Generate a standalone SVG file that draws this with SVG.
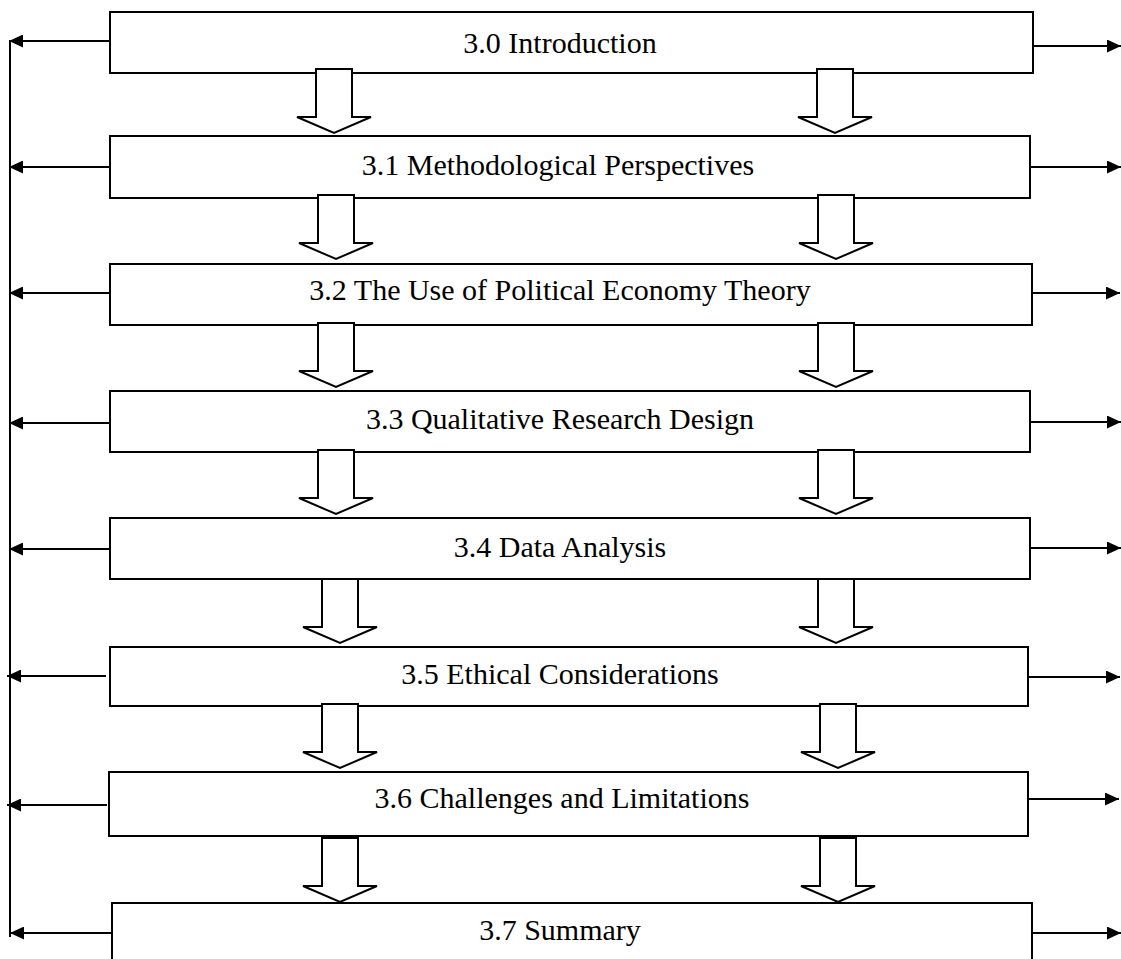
<svg xmlns="http://www.w3.org/2000/svg" width="1121" height="959" viewBox="0 0 1121 959">
  <style>
    .box { fill: #ffffff; stroke: #000000; stroke-width: 2; }
    .lbl { font-family: "Liberation Serif", "Times New Roman", serif; font-size: 30px; fill: #000000; text-anchor: middle; }
    .wire { stroke: #000000; stroke-width: 2; fill: none; }
    .arw { marker-end: url(#head); }
    .blk { fill: #ffffff; stroke: #000000; stroke-width: 2; stroke-linejoin: miter; }
  </style>
  <defs>
    <marker id="head" markerUnits="userSpaceOnUse" markerWidth="15" markerHeight="13" refX="14" refY="6.5" orient="auto">
      <path d="M0,0 L14,6.5 L0,13 Z" fill="#000000"/>
    </marker>
    <!-- hollow block arrow, origin at top-left of the shaft -->
    <path id="down" d="M0,0 H36 V48 H55 L18,64 L-19,48 H0 Z"/>
  </defs>

  <rect width="1121" height="959" fill="#ffffff"/>

  <!-- section boxes -->
  <g id="n30"><rect class="box" x="110" y="12" width="923" height="61"/><text class="lbl" x="560" y="53">3.0 Introduction</text></g>
  <g id="n31"><rect class="box" x="110" y="136" width="920" height="62"/><text class="lbl" x="558" y="175">3.1 Methodological Perspectives</text></g>
  <g id="n32"><rect class="box" x="110" y="264" width="922" height="61"/><text class="lbl" x="560" y="300">3.2 The Use of Political Economy Theory</text></g>
  <g id="n33"><rect class="box" x="110" y="391" width="920" height="61"/><text class="lbl" x="560" y="429">3.3 Qualitative Research Design</text></g>
  <g id="n34"><rect class="box" x="110" y="518" width="920" height="61"/><text class="lbl" x="560" y="557">3.4 Data Analysis</text></g>
  <g id="n35"><rect class="box" x="110" y="647" width="918" height="59"/><text class="lbl" x="560" y="684">3.5 Ethical Considerations</text></g>
  <g id="n36"><rect class="box" x="109" y="772" width="919" height="64"/><text class="lbl" x="562" y="808">3.6 Challenges and Limitations</text></g>
  <g id="n37"><rect class="box" x="112" y="903" width="920" height="70"/><text class="lbl" x="560" y="940">3.7 Summary</text></g>

  <g id="connectors">
    <!-- block arrows between consecutive sections -->
    <use href="#down" class="blk" x="316" y="69"/>
    <use href="#down" class="blk" x="817" y="69"/>
    <use href="#down" class="blk" x="318" y="195"/>
    <use href="#down" class="blk" x="818" y="195"/>
    <use href="#down" class="blk" x="318" y="323"/>
    <use href="#down" class="blk" x="818" y="323"/>
    <use href="#down" class="blk" x="318" y="450"/>
    <use href="#down" class="blk" x="818" y="450"/>
    <use href="#down" class="blk" x="322" y="579"/>
    <use href="#down" class="blk" x="818" y="579"/>
    <use href="#down" class="blk" x="322" y="704"/>
    <use href="#down" class="blk" x="820" y="704"/>
    <use href="#down" class="blk" x="322" y="838"/>
    <use href="#down" class="blk" x="820" y="838"/>

    <!-- left spine -->
    <line class="wire" x1="10" y1="41" x2="10" y2="937"/>

    <!-- left arrows -->
    <line class="wire arw" x1="110" y1="41" x2="9" y2="41"/>
    <line class="wire arw" x1="110" y1="167" x2="9" y2="167"/>
    <line class="wire arw" x1="110" y1="293" x2="9" y2="293"/>
    <line class="wire arw" x1="110" y1="423" x2="9" y2="423"/>
    <line class="wire arw" x1="110" y1="549" x2="9" y2="549"/>
    <line class="wire arw" x1="106" y1="676" x2="7" y2="676"/>
    <line class="wire arw" x1="107" y1="805" x2="7" y2="805"/>
    <line class="wire arw" x1="111" y1="933" x2="10" y2="933"/>

    <!-- right arrows -->
    <line class="wire arw" x1="1033" y1="46" x2="1121" y2="46"/>
    <line class="wire arw" x1="1030" y1="167" x2="1121" y2="167"/>
    <line class="wire arw" x1="1032" y1="293" x2="1120" y2="293"/>
    <line class="wire arw" x1="1030" y1="422" x2="1121" y2="422"/>
    <line class="wire arw" x1="1030" y1="548" x2="1121" y2="548"/>
    <line class="wire arw" x1="1028" y1="677" x2="1120" y2="677"/>
    <line class="wire arw" x1="1028" y1="799" x2="1119" y2="799"/>
    <line class="wire arw" x1="1032" y1="933" x2="1121" y2="933"/>
  </g>
</svg>
